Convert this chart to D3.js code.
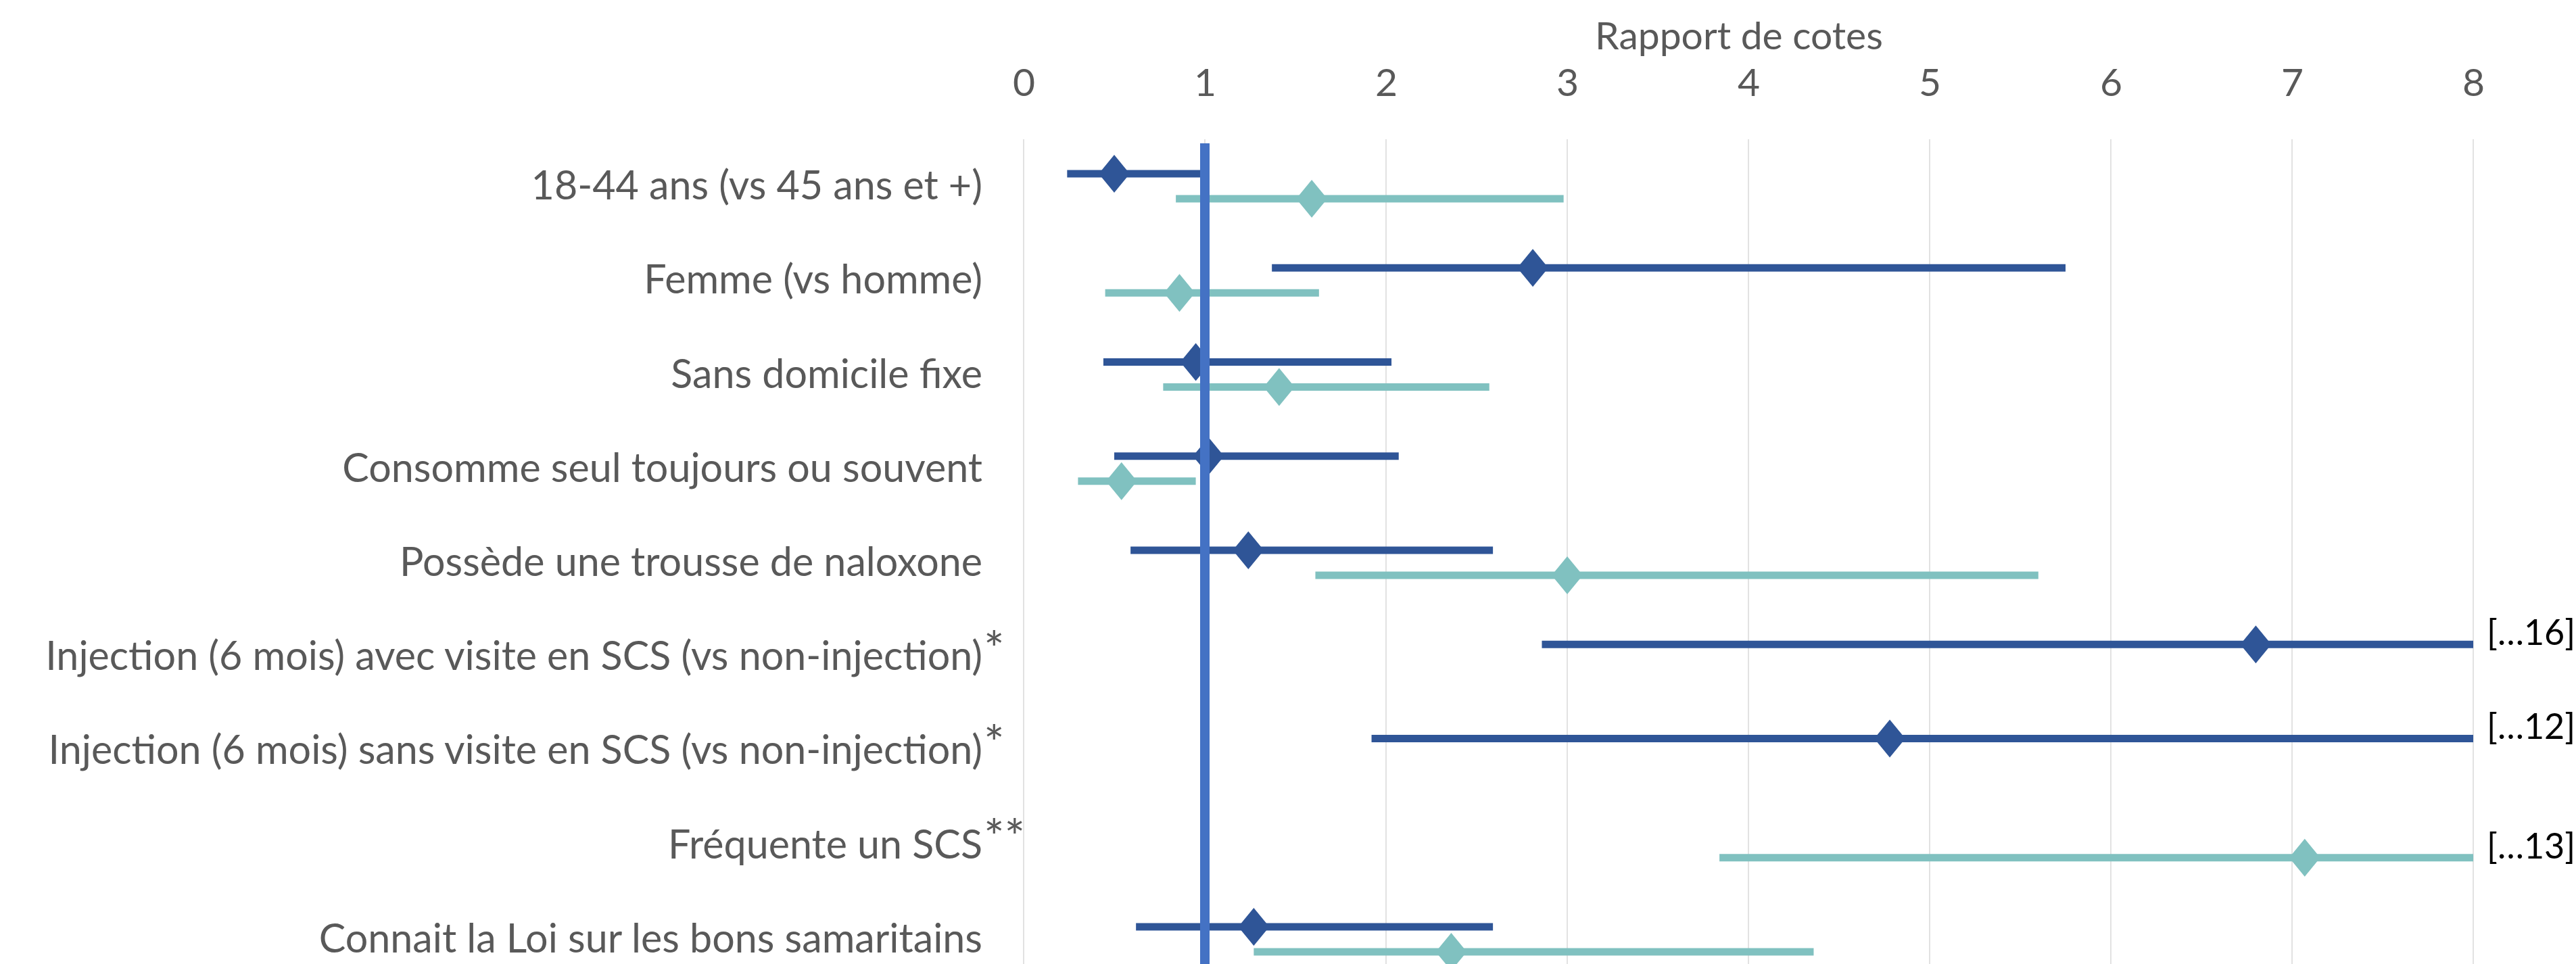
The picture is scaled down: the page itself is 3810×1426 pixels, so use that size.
<!DOCTYPE html>
<html>
<head>
<meta charset="utf-8">
<script src="https://cdn.jsdelivr.net/npm/d3@7"></script>
<style>
  html, body { margin: 0; padding: 0; background: #fff; }
  svg { display: block; font-family: Lato, "Open Sans", sans-serif; }
</style>
</head>
<body>
<svg id="chart" width="3810" height="1426"></svg>
<script>
// categories (top to bottom) and superscript marks after the label
const categories = [
  "18-44 ans (vs 45 ans et +)",
  "Femme (vs homme)",
  "Sans domicile fixe",
  "Consomme seul toujours ou souvent",
  "Possède une trousse de naloxone",
  "Injection (6 mois) avec visite en SCS (vs non-injection)",
  "Injection (6 mois) sans visite en SCS (vs non-injection)",
  "Fréquente un SCS",
  "Connait la Loi sur les bons samaritains"
];
const marks = ["", "", "", "", "", "*", "*", "**", ""];

// series 1 (dark blue): odds ratio and 95% CI
const darkOR   = [0.50, 2.81, 0.95, 1.02, 1.24, 6.80, 4.78, null, 1.27];
const darkLow  = [0.24, 1.37, 0.44, 0.50, 0.59, 2.86, 1.92, null, 0.62];
const darkHigh = [0.99, 5.75, 2.03, 2.07, 2.59, 16, 12, null, 2.59];

// series 2 (teal)
const tealOR   = [1.59, 0.86, 1.41, 0.54, 3.00, null, null, 7.07, 2.36];
const tealLow  = [0.84, 0.45, 0.77, 0.30, 1.61, null, null, 3.84, 1.27];
const tealHigh = [2.98, 1.63, 2.57, 0.95, 5.60, null, null, 13, 4.36];

const xTicks = [0, 1, 2, 3, 4, 5, 6, 7, 8];
const refValue = 1;
const axisTitle = "Rapport de cotes";

const svg = d3.select('#chart');
const gray = '#595959';
const fontSize = 57;

const x = d3.scaleLinear().domain([0, 8]).range([1514, 3658]).clamp(true);
const y = d3.scaleBand().domain(categories).range([206, 1459]).padding(0);
const rowMid = c => y(c) + y.bandwidth() / 2;

const series = [
  { name: 'dark', color: '#2F5597', or: darkOR, low: darkLow, high: darkHigh, dy: -18.5 },
  { name: 'teal', color: '#80C1C0', or: tealOR, low: tealLow, high: tealHigh, dy: 18.5 }
];

// gridlines
svg.append('g')
  .selectAll('line')
  .data(xTicks)
  .join('line')
  .attr('x1', d => x(d)).attr('x2', d => x(d))
  .attr('y1', y.range()[0]).attr('y2', y.range()[1])
  .attr('stroke', '#D9D9D9')
  .attr('stroke-width', 1.5);

// top axis
const axis = svg.append('g')
  .attr('transform', 'translate(0,142)')
  .call(d3.axisTop(x).tickValues(xTicks).tickSize(0).tickPadding(0));
axis.select('.domain').remove();
axis.selectAll('text')
  .attr('fill', gray)
  .attr('font-size', fontSize)
  .attr('font-family', 'Lato, sans-serif')
  .attr('dy', 0);

svg.append('text')
  .attr('x', (x.range()[0] + x.range()[1]) / 2 - 14)
  .attr('y', 73)
  .attr('text-anchor', 'middle')
  .attr('fill', gray)
  .attr('font-size', fontSize)
  .text(axisTitle);

// category labels
const labels = svg.append('g')
  .selectAll('text')
  .data(categories)
  .join('text')
  .attr('x', 1453)
  .attr('y', d => rowMid(d) + 19.5)
  .attr('text-anchor', 'end')
  .attr('fill', gray)
  .attr('font-size', fontSize)
  .text(d => d);

// fit label size so the longest label has the reference width
let maxW = 0;
labels.each(function () { maxW = Math.max(maxW, this.getComputedTextLength()); });
const labelSize = fontSize * 1386 / maxW;
labels.attr('font-size', labelSize);

svg.append('g')
  .selectAll('text')
  .data(categories.map((c, i) => ({ c, m: marks[i] })).filter(d => d.m))
  .join('text')
  .attr('x', 1455)
  .attr('y', d => rowMid(d.c) + 14)
  .attr('fill', gray)
  .attr('font-size', 72)
  .text(d => d.m);

// error bars and diamonds
const diamond = 'M0,-28L23,0L0,28L-23,0Z';

series.forEach(s => {
  const rows = categories
    .map((c, i) => ({ c, or: s.or[i], low: s.low[i], high: s.high[i] }))
    .filter(d => d.or != null);
  const g = svg.append('g');

  g.selectAll('line')
    .data(rows)
    .join('line')
    .attr('x1', d => x(d.low))
    .attr('x2', d => x(d.high))
    .attr('y1', d => rowMid(d.c) + s.dy)
    .attr('y2', d => rowMid(d.c) + s.dy)
    .attr('stroke', s.color)
    .attr('stroke-width', 11);

  g.selectAll('path')
    .data(rows)
    .join('path')
    .attr('d', diamond)
    .attr('transform', d => `translate(${x(d.or)},${rowMid(d.c) + s.dy})`)
    .attr('fill', s.color);

  // upper bound beyond the axis
  g.selectAll('text')
    .data(rows.filter(d => d.high > x.domain()[1]))
    .join('text')
    .attr('x', x(x.domain()[1]) + 20)
    .attr('y', d => rowMid(d.c) + s.dy + 1)
    .attr('fill', '#000')
    .attr('font-size', 52)
    .text(d => `[…${d.high}]`);
});

// reference line at OR = 1
svg.append('line')
  .attr('x1', x(refValue)).attr('x2', x(refValue))
  .attr('y1', 212).attr('y2', y.range()[1])
  .attr('stroke', '#4472C4')
  .attr('stroke-width', 14);
</script>
</body>
</html>
